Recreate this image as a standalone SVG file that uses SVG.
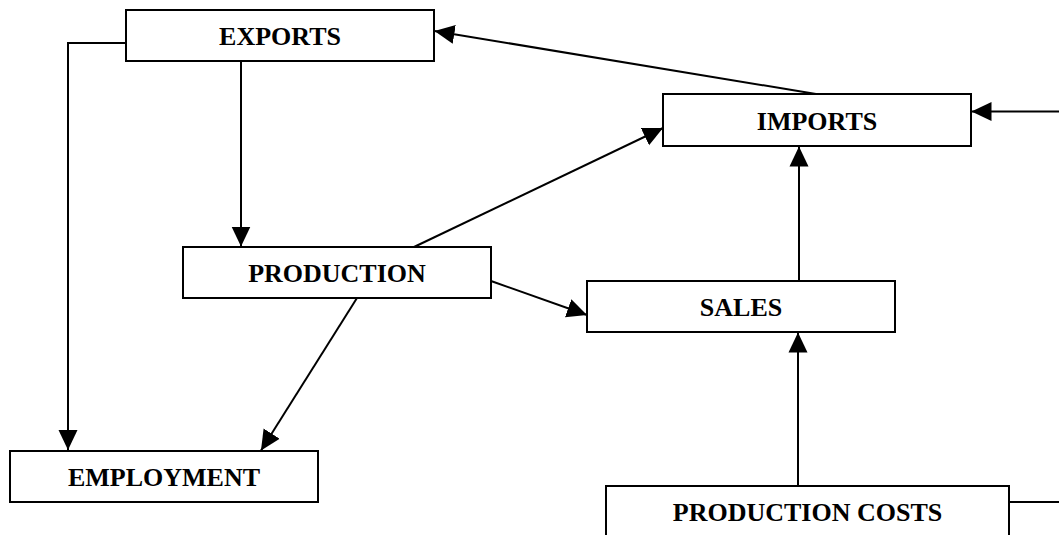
<svg xmlns="http://www.w3.org/2000/svg" width="1059" height="535" viewBox="0 0 1059 535">
<style>
.box{fill:#fff;stroke:#000;stroke-width:2}
.lbl{font-family:"Liberation Serif","Times New Roman",serif;font-weight:bold;font-size:26px;text-anchor:middle;fill:#000}
.c{fill:none;stroke:#000;stroke-width:2}
</style>
<defs>
<marker id="ah" markerUnits="userSpaceOnUse" markerWidth="20" markerHeight="20" refX="20" refY="10" orient="auto" viewBox="0 0 20 20">
<path d="M0,0.5 L20,10 L0,19.5 z" fill="#000"/>
</marker>
</defs>
<rect width="1059" height="535" fill="#fff"/>
<g id="connectors">
<polyline class="c" points="126,43 68,43 68,450" marker-end="url(#ah)"/>
<line class="c" x1="241" y1="61" x2="241" y2="246.5" marker-end="url(#ah)"/>
<line class="c" x1="816" y1="94" x2="434.5" y2="31" marker-end="url(#ah)"/>
<line class="c" x1="1059" y1="111.5" x2="971.5" y2="111.5" marker-end="url(#ah)"/>
<line class="c" x1="414" y1="247" x2="663" y2="128" marker-end="url(#ah)"/>
<line class="c" x1="491" y1="281" x2="587" y2="315" marker-end="url(#ah)"/>
<line class="c" x1="799" y1="281" x2="799" y2="146.5" marker-end="url(#ah)"/>
<line class="c" x1="798" y1="486" x2="798" y2="332.5" marker-end="url(#ah)"/>
<line class="c" x1="1009" y1="502" x2="1059" y2="502"/>
<line class="c" x1="357" y1="298" x2="261" y2="450.5" marker-end="url(#ah)"/>
</g>
<g id="exports"><rect class="box" x="126" y="10" width="308" height="51"/><text class="lbl" x="280" y="45">EXPORTS</text></g>
<g id="imports"><rect class="box" x="663" y="94" width="308" height="52"/><text class="lbl" x="817" y="130">IMPORTS</text></g>
<g id="production"><rect class="box" x="183" y="247" width="308" height="51"/><text class="lbl" x="337" y="282">PRODUCTION</text></g>
<g id="sales"><rect class="box" x="587" y="281" width="308" height="51"/><text class="lbl" x="741" y="316">SALES</text></g>
<g id="employment"><rect class="box" x="10" y="451" width="308" height="51"/><text class="lbl" x="164" y="486">EMPLOYMENT</text></g>
<g id="production-costs"><rect class="box" x="606" y="486" width="403" height="60"/><text class="lbl" x="807.5" y="521">PRODUCTION COSTS</text></g>
</svg>
